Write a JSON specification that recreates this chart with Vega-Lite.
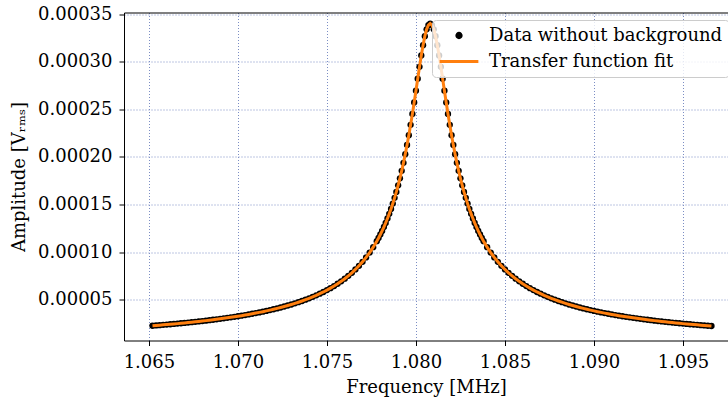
{
  "$schema": "https://vega.github.io/schema/vega-lite/v6.json",
  "autosize": {"type": "none"},
  "width": 604,
  "height": 328,
  "padding": {"left": 124, "top": 12.5, "right": 0, "bottom": 60.5},
  "config": {
    "font": "DejaVu Serif",
    "view": {"stroke": null},
    "axis": {
      "labelFont": "DejaVu Serif",
      "titleFont": "DejaVu Serif",
      "labelFontSize": 18,
      "titleFontSize": 18,
      "titleFontWeight": "normal",
      "labelColor": "black",
      "titleColor": "black",
      "domainColor": "black",
      "domainWidth": 1,
      "tickColor": "black",
      "tickSize": 5,
      "tickWidth": 1,
      "gridColor": "#7b8dc4",
      "gridDash": [1, 2],
      "gridWidth": 1,
      "labelFlush": false,
      "labelOverlap": false
    }
  },
  "data": {
    "values": [
      {"f":1.0652,"a":0.00002262},{"f":1.0654,"a":0.00002291},{"f":1.0656,"a":0.00002321},{"f":1.0658,"a":0.00002352},
      {"f":1.0660,"a":0.00002383},{"f":1.0662,"a":0.00002416},{"f":1.0664,"a":0.00002449},{"f":1.0666,"a":0.00002483},
      {"f":1.0668,"a":0.00002519},{"f":1.0670,"a":0.00002555},{"f":1.0672,"a":0.00002592},{"f":1.0674,"a":0.00002631},
      {"f":1.0676,"a":0.00002671},{"f":1.0678,"a":0.00002711},{"f":1.0680,"a":0.00002753},{"f":1.0682,"a":0.00002797},
      {"f":1.0684,"a":0.00002842},{"f":1.0686,"a":0.00002888},{"f":1.0688,"a":0.00002936},{"f":1.0690,"a":0.00002985},
      {"f":1.0692,"a":0.00003036},{"f":1.0694,"a":0.00003089},{"f":1.0696,"a":0.00003144},{"f":1.0698,"a":0.00003200},
      {"f":1.0700,"a":0.00003259},{"f":1.0702,"a":0.00003320},{"f":1.0704,"a":0.00003383},{"f":1.0706,"a":0.00003449},
      {"f":1.0708,"a":0.00003517},{"f":1.0710,"a":0.00003588},{"f":1.0712,"a":0.00003662},{"f":1.0714,"a":0.00003739},
      {"f":1.0716,"a":0.00003819},{"f":1.0718,"a":0.00003903},{"f":1.0720,"a":0.00003990},{"f":1.0722,"a":0.00004082},
      {"f":1.0724,"a":0.00004178},{"f":1.0726,"a":0.00004278},{"f":1.0728,"a":0.00004383},{"f":1.0730,"a":0.00004494},
      {"f":1.0732,"a":0.00004610},{"f":1.0734,"a":0.00004732},{"f":1.0736,"a":0.00004861},{"f":1.0738,"a":0.00004997},
      {"f":1.0740,"a":0.00005140},{"f":1.0742,"a":0.00005292},{"f":1.0744,"a":0.00005453},{"f":1.0746,"a":0.00005625},
      {"f":1.0748,"a":0.00005807},{"f":1.0750,"a":0.00006001},{"f":1.0752,"a":0.00006208},{"f":1.0754,"a":0.00006430},
      {"f":1.0756,"a":0.00006668},{"f":1.0758,"a":0.00006924},{"f":1.0760,"a":0.00007200},{"f":1.0762,"a":0.00007498},
      {"f":1.0764,"a":0.00007821},{"f":1.0766,"a":0.00008172},{"f":1.0768,"a":0.00008556},{"f":1.0770,"a":0.00008975},
      {"f":1.0772,"a":0.00009436},{"f":1.0774,"a":0.00009945},{"f":1.0776,"a":0.0001051},
      {"f":1.0778,"a":0.0001114},{"f":1.0779,"a":0.0001148},{"f":1.0780,"a":0.0001184},{"f":1.0781,"a":0.0001222},
      {"f":1.0782,"a":0.0001263},{"f":1.0783,"a":0.0001306},{"f":1.0784,"a":0.0001352},{"f":1.0785,"a":0.0001401},
      {"f":1.0786,"a":0.0001453},{"f":1.0787,"a":0.0001509},{"f":1.0788,"a":0.0001569},{"f":1.0789,"a":0.0001632},
      {"f":1.0790,"a":0.0001701},{"f":1.0791,"a":0.0001774},{"f":1.0792,"a":0.0001853},{"f":1.0793,"a":0.0001937},
      {"f":1.0794,"a":0.0002028},{"f":1.0795,"a":0.0002124},{"f":1.0796,"a":0.0002227},{"f":1.0797,"a":0.0002336},
      {"f":1.0798,"a":0.0002451},{"f":1.0799,"a":0.0002571},{"f":1.0800,"a":0.0002695},{"f":1.0801,"a":0.0002821},
      {"f":1.0802,"a":0.0002945},{"f":1.0803,"a":0.0003064},{"f":1.0804,"a":0.0003173},{"f":1.0805,"a":0.0003267},
      {"f":1.0806,"a":0.0003339},{"f":1.0807,"a":0.0003384},{"f":1.0808,"a":0.0003400},{"f":1.0809,"a":0.0003384},
      {"f":1.0810,"a":0.0003339},{"f":1.0811,"a":0.0003267},{"f":1.0812,"a":0.0003173},{"f":1.0813,"a":0.0003064},
      {"f":1.0814,"a":0.0002945},{"f":1.0815,"a":0.0002821},{"f":1.0816,"a":0.0002695},{"f":1.0817,"a":0.0002571},
      {"f":1.0818,"a":0.0002451},{"f":1.0819,"a":0.0002336},{"f":1.0820,"a":0.0002227},{"f":1.0821,"a":0.0002124},
      {"f":1.0822,"a":0.0002028},{"f":1.0823,"a":0.0001937},{"f":1.0824,"a":0.0001853},{"f":1.0825,"a":0.0001774},
      {"f":1.0826,"a":0.0001701},{"f":1.0827,"a":0.0001632},{"f":1.0828,"a":0.0001569},{"f":1.0829,"a":0.0001509},
      {"f":1.0830,"a":0.0001453},{"f":1.0831,"a":0.0001401},{"f":1.0832,"a":0.0001352},{"f":1.0833,"a":0.0001306},
      {"f":1.0834,"a":0.0001263},{"f":1.0835,"a":0.0001222},{"f":1.0836,"a":0.0001184},{"f":1.0837,"a":0.0001148},
      {"f":1.0838,"a":0.0001114},
      {"f":1.0840,"a":0.0001051},{"f":1.0842,"a":0.00009945},{"f":1.0844,"a":0.00009436},{"f":1.0846,"a":0.00008975},
      {"f":1.0848,"a":0.00008556},{"f":1.0850,"a":0.00008172},{"f":1.0852,"a":0.00007821},{"f":1.0854,"a":0.00007498},
      {"f":1.0856,"a":0.00007200},{"f":1.0858,"a":0.00006924},{"f":1.0860,"a":0.00006668},{"f":1.0862,"a":0.00006430},
      {"f":1.0864,"a":0.00006208},{"f":1.0866,"a":0.00006001},{"f":1.0868,"a":0.00005807},{"f":1.0870,"a":0.00005625},
      {"f":1.0872,"a":0.00005453},{"f":1.0874,"a":0.00005292},{"f":1.0876,"a":0.00005140},{"f":1.0878,"a":0.00004997},
      {"f":1.0880,"a":0.00004861},{"f":1.0882,"a":0.00004732},{"f":1.0884,"a":0.00004610},{"f":1.0886,"a":0.00004494},
      {"f":1.0888,"a":0.00004383},{"f":1.0890,"a":0.00004278},{"f":1.0892,"a":0.00004178},{"f":1.0894,"a":0.00004082},
      {"f":1.0896,"a":0.00003990},{"f":1.0898,"a":0.00003903},{"f":1.0900,"a":0.00003819},{"f":1.0902,"a":0.00003739},
      {"f":1.0904,"a":0.00003662},{"f":1.0906,"a":0.00003588},{"f":1.0908,"a":0.00003517},{"f":1.0910,"a":0.00003449},
      {"f":1.0912,"a":0.00003383},{"f":1.0914,"a":0.00003320},{"f":1.0916,"a":0.00003259},{"f":1.0918,"a":0.00003200},
      {"f":1.0920,"a":0.00003144},{"f":1.0922,"a":0.00003089},{"f":1.0924,"a":0.00003036},{"f":1.0926,"a":0.00002985},
      {"f":1.0928,"a":0.00002936},{"f":1.0930,"a":0.00002888},{"f":1.0932,"a":0.00002842},{"f":1.0934,"a":0.00002797},
      {"f":1.0936,"a":0.00002753},{"f":1.0938,"a":0.00002711},{"f":1.0940,"a":0.00002671},{"f":1.0942,"a":0.00002631},
      {"f":1.0944,"a":0.00002592},{"f":1.0946,"a":0.00002555},{"f":1.0948,"a":0.00002519},{"f":1.0950,"a":0.00002483},
      {"f":1.0952,"a":0.00002449},{"f":1.0954,"a":0.00002416},{"f":1.0956,"a":0.00002383},{"f":1.0958,"a":0.00002352},
      {"f":1.0960,"a":0.00002321},{"f":1.0962,"a":0.00002291},{"f":1.0964,"a":0.00002262},{"f":1.0966,"a":0.00002233}
    ]
  },
  "resolve": {"axis": {"x": "independent"}},
  "layer": [
    {
      "mark": {"type": "circle", "size": 40, "opacity": 1},
      "encoding": {
        "x": {
          "field": "f", "type": "quantitative",
          "scale": {"domain": [1.0636, 1.09753], "nice": false, "zero": false},
          "axis": {
            "title": "Frequency [MHz]",
            "values": [1.065, 1.07, 1.075, 1.08, 1.085, 1.09, 1.095],
            "format": ".3f",
            "grid": true,
            "labelPadding": 8,
            "titlePadding": 7
          }
        },
        "y": {
          "field": "a", "type": "quantitative",
          "scale": {"domain": [0.0000071, 0.0003516], "nice": false, "zero": false},
          "axis": {
            "title": "Amplitude [Vᵣₘₛ]",
            "values": [0.00005, 0.0001, 0.00015, 0.0002, 0.00025, 0.0003, 0.00035],
            "format": ".5f",
            "grid": true,
            "labelPadding": 7,
            "titlePadding": 9
          }
        },
        "color": {
          "datum": "Data without background",
          "type": "nominal",
          "scale": {
            "domain": ["Data without background", "Transfer function fit"],
            "range": ["black", "#ff7f0e"]
          },
          "legend": {
            "title": null,
            "orient": "none",
            "legendX": 308,
            "legendY": 7.5,
            "labelFont": "DejaVu Serif",
            "labelFontSize": 18,
            "labelColor": "black",
            "labelLimit": 500,
            "labelOffset": 9,
            "symbolType": {"expr": "datum.value === 'Transfer function fit' ? 'stroke' : 'M-0.11,0A0.11,0.11,0,1,0,0.11,0A0.11,0.11,0,1,0,-0.11,0Z'"},
            "symbolSize": 1500,
            "symbolStrokeWidth": 3,
            "symbolOffset": 0,
            "symbolOpacity": 1,
            "clipHeight": 19,
            "rowPadding": 7,
            "padding": 6,
            "fillColor": "rgba(255,255,255,0.8)",
            "strokeColor": "#cccccc",
            "cornerRadius": 4
          }
        }
      }
    },
    {
      "mark": {"type": "line", "strokeWidth": 3, "strokeCap": "butt"},
      "encoding": {
        "x": {
          "field": "f", "type": "quantitative",
          "axis": {"orient": "top", "labels": false, "ticks": false, "grid": false, "domain": true, "title": null, "domainColor": "black"}
        },
        "y": {"field": "a", "type": "quantitative"},
        "color": {"datum": "Transfer function fit", "type": "nominal"}
      }
    }
  ]
}
